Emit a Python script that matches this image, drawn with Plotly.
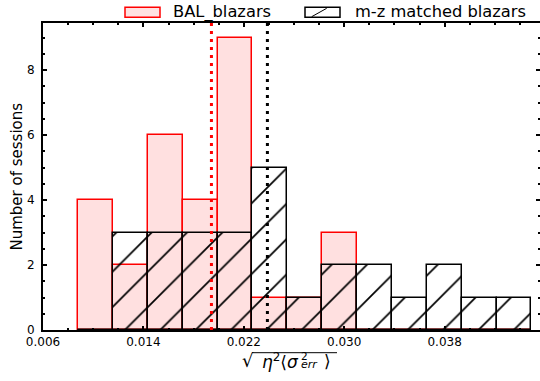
import plotly.graph_objects as go

# ---- data ----
bin_edges = [0.00879, 0.01157, 0.01435, 0.01713, 0.01991, 0.02269, 0.02547,
             0.02824, 0.03102, 0.03380, 0.03658, 0.03936, 0.04214, 0.04492]
bal_counts = [4, 2, 6, 4, 9, 1, 1, 3, 0, 0, 0, 0, 0]
mz_counts = [0, 3, 3, 3, 3, 5, 1, 2, 2, 1, 2, 1, 1]
bal_median = 0.01942
mz_median = 0.02388
x_tickvals = [0.006, 0.014, 0.022, 0.030, 0.038]
x_ticktext = ["0.006", "0.014", "0.022", "0.030", "0.038"]
y_tickvals = [0, 2, 4, 6, 8]
series_names = ["BAL_blazars", "m-z matched blazars"]

centers = [(a + b) / 2 for a, b in zip(bin_edges[:-1], bin_edges[1:])]
widths = [b - a for a, b in zip(bin_edges[:-1], bin_edges[1:])]

FONT = "DejaVu Sans"
YMAX = 9.45
XR = [0.006, 0.0456]

fig = go.Figure()
fig.add_trace(go.Bar(
    x=centers, y=bal_counts, width=widths, name=series_names[0],
    marker=dict(color="rgba(255,0,0,0.12)", line=dict(color="red", width=1.5)),
    showlegend=False,
))
fig.add_trace(go.Bar(
    x=centers, y=mz_counts, width=widths, name=series_names[1],
    marker=dict(color="rgba(0,0,0,0)", line=dict(color="black", width=1.5),
                pattern=dict(shape="/", fgcolor="black", bgcolor="rgba(0,0,0,0)",
                             fgopacity=1, size=25, solidity=0.07,
                             fillmode="overlay")),
    showlegend=False,
))
for med, col in [(bal_median, "red"), (mz_median, "black")]:
    fig.add_trace(go.Scatter(
        x=[med, med], y=[0, YMAX], mode="lines", yaxis="y2",
        line=dict(color=col, width=3, dash="3px,5px"), showlegend=False,
        hoverinfo="skip",
    ))

axis_common = dict(showgrid=False, zeroline=False, ticks="inside",
                   tickcolor="black", tickwidth=2, ticklen=4,
                   tickfont=dict(family=FONT, size=12, color="black"))

fig.update_layout(
    width=540, height=381,
    margin=dict(l=43, r=0, t=23, b=51),
    plot_bgcolor="white", paper_bgcolor="white",
    barmode="overlay", bargap=0,
    font=dict(family=FONT, color="black"),
    xaxis=dict(range=XR, tickvals=x_tickvals, ticktext=x_ticktext,
               showline=True, linecolor="black", linewidth=2, mirror="ticks",
               minor=dict(dtick=0.002, tick0=0.006, ticks="inside", ticklen=2,
                          tickwidth=1.5, tickcolor="black"),
               **axis_common),
    yaxis=dict(range=[0, YMAX], tickvals=y_tickvals,
               showline=True, linecolor="black", linewidth=2,
               ticklabelstandoff=4,
               minor=dict(dtick=0.5, tick0=0, ticks="inside", ticklen=2,
                          tickwidth=1.5, tickcolor="black"),
               **axis_common),
    yaxis2=dict(range=[0, YMAX], overlaying="y", side="right", showline=False,
                showticklabels=False, tickvals=y_tickvals,
                minor=dict(dtick=0.5, tick0=0, ticks="inside", ticklen=2,
                           tickwidth=1.5, tickcolor="black"),
                **axis_common),
)

def px_x(p):
    return (p - 43) / 497.0

def px_y(p):
    return (330 - p) / 307.0

def note(text, x, y, size, xanchor="left", yanchor="middle", angle=0):
    fig.add_annotation(text=text, xref="paper", yref="paper", x=px_x(x), y=px_y(y),
                       xanchor=xanchor, yanchor=yanchor, textangle=angle,
                       showarrow=False, borderpad=0,
                       font=dict(family=FONT, size=size, color="black"))

# manual legend
fig.add_shape(type="rect", xref="paper", yref="paper",
              x0=px_x(125), x1=px_x(160), y0=px_y(17.3), y1=px_y(7.3),
              fillcolor="rgb(255,225,225)", line=dict(color="red", width=1.5))
fig.add_shape(type="rect", xref="paper", yref="paper",
              x0=px_x(305), x1=px_x(340), y0=px_y(17.3), y1=px_y(7.3),
              fillcolor="white", line=dict(color="black", width=1.5))
fig.add_shape(type="line", xref="paper", yref="paper",
              x0=px_x(311.7), x1=px_x(326.7), y0=px_y(16.7), y1=px_y(8.3),
              line=dict(color="black", width=1))
note(series_names[0], 172, 12, 16.3)
note(series_names[1], 354, 12, 16.3)

# axis titles
note("Number of sessions", 16.5, 177, 15, xanchor="center", angle=-90)
note("√", 241, 360, 18)
note("<i>η</i><sup>2</sup>⟨<i>σ</i>", 261, 361, 17)
note("2", 300, 355.5, 10.5)
note("<i>err</i>", 300, 364.5, 11)
note("⟩", 323, 361, 17)
fig.add_shape(type="line", xref="paper", yref="paper",
              x0=px_x(252), x1=px_x(337), y0=px_y(352.7), y1=px_y(352.7),
              line=dict(color="black", width=1))

fig.write_html("out.html",
               config={"displayModeBar": False},
               post_script="document.body.style.margin='0';document.body.style.overflow='hidden';")
